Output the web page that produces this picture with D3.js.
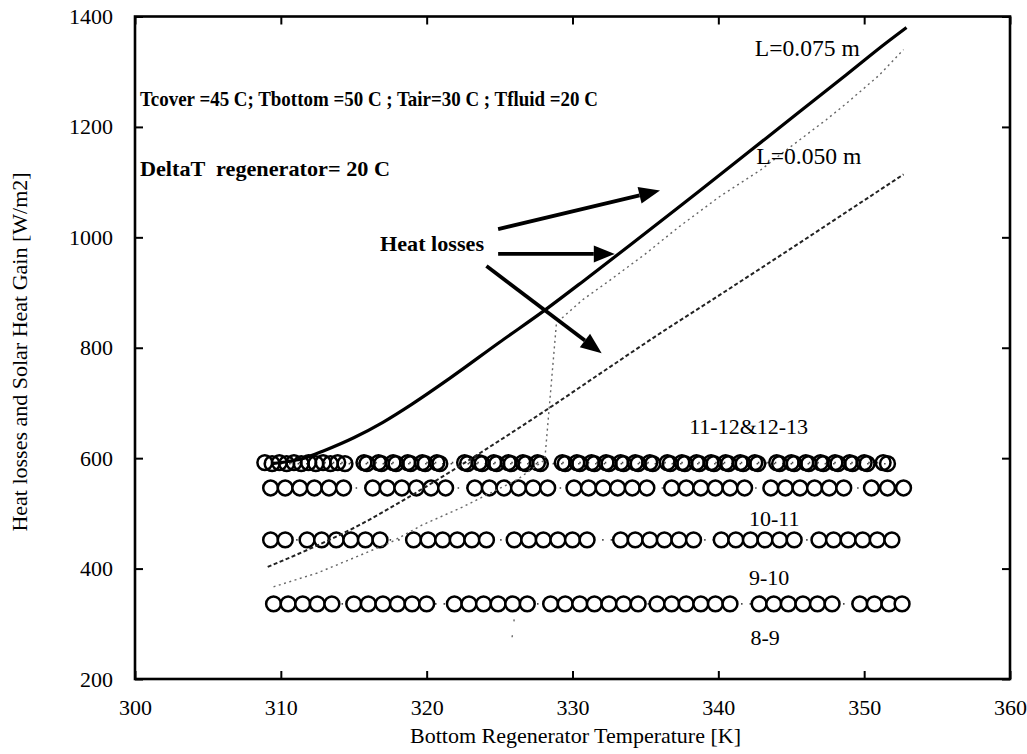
<!DOCTYPE html>
<html>
<head>
<meta charset="utf-8">
<script src="https://cdn.jsdelivr.net/npm/d3@7"></script>
<style>
  html, body { margin: 0; padding: 0; background: #fff; }
  svg { display: block; font-family: "Liberation Serif", "Times New Roman", serif; }
</style>
</head>
<body>
<svg id="chart" width="1027" height="754"></svg>
<script>
// ---- axis ticks ----
const xTicks = [300, 310, 320, 330, 340, 350, 360];
const yTicks = [200, 400, 600, 800, 1000, 1200, 1400];

// ---- heat loss curves: [temperature K, W/m2] ----
const lossL075 = [[309.4, 590], [310.5, 594], [311.6, 600], [313, 614], [315, 637], [317, 665], [319, 698],
  [321.6, 745], [325, 810], [328.2, 870], [331, 926], [334, 987], [337.3, 1055], [338.7, 1084],
  [342.1, 1155], [345.5, 1226], [348.8, 1295], [351.5, 1352], [352.9, 1380]];
const lossL050 = [[309.5, 367], [312.5, 392], [314.7, 416], [317.5, 447], [319.7, 479], [322.5, 512],
  [326.2, 561], [328.1, 597], [328.9, 845], [330.7, 887], [332.5, 921], [335, 970], [337.3, 1019],
  [340.1, 1074], [342.9, 1122], [344.9, 1163], [347.4, 1213], [348.8, 1243], [351, 1293], [352.7, 1340]];
const lossL050Tail = [[326.0, 308], [325.8, 262]];
const lossLower = [[309.1, 403], [312, 436], [315.4, 479], [318.6, 527], [321.6, 575], [324, 615],
  [327.9, 682], [332.5, 764], [336, 826], [340, 894], [345, 980], [350, 1067], [352.7, 1114]];

// ---- solar heat gain rows (markers), temperatures in K ----
const gain1112 = [308.9, 309.9, 310.9, 311.9, 312.9, 313.9,
  315.7, 316.7, 317.7, 318.7, 319.7, 320.7,
  322.6, 323.6, 324.6, 325.6, 326.6, 327.6,
  329.3, 330.3, 331.3, 332.3, 333.3, 334.3, 335.3,
  336.5, 337.5, 338.5, 339.5, 340.5, 341.5, 342.5,
  344.0, 345.0, 346.0, 347.0, 348.0, 349.0, 350.0,
  351.3];
const gain1213 = [309.4, 310.4, 311.4, 312.4, 313.4, 314.4,
  315.9, 316.9, 317.9, 318.9, 319.9, 320.9,
  322.8, 323.8, 324.8, 325.8, 326.8, 327.8,
  329.5, 330.5, 331.5, 332.5, 333.5, 334.5, 335.5,
  336.7, 337.7, 338.7, 339.7, 340.7, 341.7, 342.7,
  344.2, 345.2, 346.2, 347.2, 348.2, 349.2, 350.2,
  351.6];
const gain1011 = [309.3, 310.3, 311.3, 312.3, 313.3, 314.3,
  316.3, 317.3, 318.3, 319.3, 320.3, 321.3,
  323.3, 324.3, 325.3, 326.3, 327.3, 328.3,
  330.1, 331.1, 332.1, 333.1, 334.1, 335.1,
  336.8, 337.8, 338.8, 339.8, 340.8, 341.8,
  343.6, 344.6, 345.6, 346.6, 347.6, 348.6,
  350.5, 351.6, 352.7];
const gain910 = [309.3, 310.3,
  311.8, 312.8, 313.8, 314.8, 315.8, 316.8,
  319.1, 320.1, 321.1, 322.1, 323.1, 324.1,
  326.0, 327.0, 328.0, 329.0, 330.0, 331.0,
  333.3, 334.3, 335.3, 336.3, 337.3, 338.3,
  340.2, 341.2, 342.2, 343.2, 344.2, 345.2,
  346.9, 347.9, 348.9, 349.9, 350.9, 351.9];
const gain89 = [309.5, 310.5, 311.5, 312.5, 313.5,
  315.0, 316.0, 317.0, 318.0, 319.0, 320.0,
  321.9, 322.9, 323.9, 324.9, 325.9, 326.9,
  328.5, 329.5, 330.5, 331.5, 332.5, 333.5, 334.5,
  335.8, 336.8, 337.8, 338.8, 339.8, 340.8,
  342.8, 343.8, 344.8, 345.8, 346.8, 347.8,
  349.7, 350.7, 351.7, 352.6];
const gainLevels = { g1112: 592, g1213: 590, g1011: 546, g910: 452, g89: 336 };

// ---- labels ----
const rowLabels = [
  { text: "11-12&12-13", t: 338.0, v: 644 },
  { text: "10-11", t: 342.1, v: 478 },
  { text: "9-10", t: 342.1, v: 371 },
  { text: "8-9", t: 342.2, v: 261 }
];
const curveLabels = [
  { text: "L=0.075 m", t: 342.5, v: 1329 },
  { text: "L=0.050 m", t: 342.6, v: 1132 }
];
const arrows = [
  { from: [324.9, 1015], to: [336.0, 1085] },
  { from: [324.9, 970], to: [332.9, 970] },
  { from: [324.1, 948], to: [332.0, 790] }
];

const svg = d3.select("#chart");
const margin = { left: 135, top: 16.5, right: 17, bottom: 75 };
const W = 1027 - margin.left - margin.right;
const H = 754 - margin.top - margin.bottom;

const x = d3.scaleLinear().domain([300, 360]).range([0, W]);
const y = d3.scaleLinear().domain([200, 1400]).range([H, 0]);

const g = svg.append("g").attr("transform", `translate(${margin.left},${margin.top})`);

// axes with inward ticks on all four sides
const styleAxis = sel => {
  sel.select(".domain").remove();
  sel.selectAll(".tick line").attr("stroke", "#000").attr("stroke-width", 2);
  sel.selectAll(".tick text").attr("fill", "#000").style("font-size", "22px")
    .style("font-family", "'Liberation Serif', serif");
};
g.append("g").attr("transform", `translate(0,${H})`)
  .call(d3.axisBottom(x).tickValues(xTicks).tickFormat(d3.format("d")).tickSize(-8).tickPadding(20))
  .call(styleAxis);
g.append("g")
  .call(d3.axisLeft(y).tickValues(yTicks).tickFormat(d3.format("d")).tickSize(-8).tickPadding(22))
  .call(styleAxis);
g.append("g")
  .call(d3.axisTop(x).tickValues(xTicks).tickFormat("").tickSize(-8))
  .call(styleAxis);
g.append("g").attr("transform", `translate(${W},0)`)
  .call(d3.axisRight(y).tickValues(yTicks).tickFormat("").tickSize(-8))
  .call(styleAxis);

// plot frame
g.append("rect").attr("x", 0).attr("y", 0).attr("width", W).attr("height", H)
  .attr("fill", "none").attr("stroke", "#000").attr("stroke-width", 2.6);

const line = d3.line().x(d => x(d[0])).y(d => y(d[1])).curve(d3.curveMonotoneX);
const straight = d3.line().x(d => x(d[0])).y(d => y(d[1]));

// marker rows: faint dotted guide, then hollow circles
const rows = [
  { data: gain1112, v: gainLevels.g1112, fill: "none" },
  { data: gain1213, v: gainLevels.g1213, fill: "none" },
  { data: gain1011, v: gainLevels.g1011, fill: "#fff" },
  { data: gain910, v: gainLevels.g910, fill: "#fff" },
  { data: gain89, v: gainLevels.g89, fill: "#fff" }
];
rows.forEach(r => {
  g.append("path")
    .attr("d", straight([[r.data[0], r.v], [r.data[r.data.length - 1], r.v]]))
    .attr("fill", "none").attr("stroke", "#444").attr("stroke-width", 1.6)
    .attr("stroke-dasharray", "1.5,7");
});
rows.forEach(r => {
  g.append("g").selectAll("circle").data(r.data).join("circle")
    .attr("cx", d => x(d)).attr("cy", y(r.v)).attr("r", 7.4)
    .attr("fill", r.fill).attr("stroke", "#000").attr("stroke-width", 2.5);
});

// heat loss curves
g.append("path").attr("d", line(lossLower))
  .attr("fill", "none").attr("stroke", "#222").attr("stroke-width", 2)
  .attr("stroke-dasharray", "4,2.5");
g.append("path").attr("d", straight(lossL050))
  .attr("fill", "none").attr("stroke", "#666").attr("stroke-width", 1.4)
  .attr("stroke-dasharray", "2,3.5");
g.append("path").attr("d", straight(lossL050Tail))
  .attr("fill", "none").attr("stroke", "#666").attr("stroke-width", 1.4)
  .attr("stroke-dasharray", "2,14");
g.append("path").attr("d", line(lossL075))
  .attr("fill", "none").attr("stroke", "#000").attr("stroke-width", 3.2);

// arrows pointing at the loss curves
arrows.forEach(a => {
  const x0 = x(a.from[0]), y0 = y(a.from[1]), x1 = x(a.to[0]), y1 = y(a.to[1]);
  const ang = Math.atan2(y1 - y0, x1 - x0);
  const hl = 21, hw = 8.5;
  const bx = x1 - hl * Math.cos(ang), by = y1 - hl * Math.sin(ang);
  g.append("line").attr("x1", x0).attr("y1", y0).attr("x2", bx).attr("y2", by)
    .attr("stroke", "#000").attr("stroke-width", 3.8);
  const px = -Math.sin(ang) * hw, py = Math.cos(ang) * hw;
  g.append("path")
    .attr("d", `M${x1},${y1}L${bx + px},${by + py}L${bx - px},${by - py}Z`)
    .attr("fill", "#000");
});

// annotation texts
const txt = (t, v, s, size, opts = {}) => {
  const el = g.append("text").attr("x", x(t)).attr("y", y(v)).text(s)
    .attr("fill", "#000").style("font-size", size + "px").style("white-space", "pre");
  if (opts.bold) el.style("font-weight", "bold");
  if (opts.len) el.attr("textLength", opts.len).attr("lengthAdjust", "spacingAndGlyphs");
  return el;
};
txt(300.34, 1238, "Tcover =45 C; Tbottom =50 C ; Tair=30 C ; Tfluid =20 C", 22, { bold: true, len: 458 });
txt(300.34, 1111, "DeltaT  regenerator= 20 C", 22, { bold: true, len: 250 });
txt(316.8, 976, "Heat losses", 22, { bold: true, len: 104 });
curveLabels.forEach(l => txt(l.t, l.v, l.text, 23, { len: 105 }));
rowLabels.forEach(l => txt(l.t, l.v, l.text, 22));

// axis titles
svg.append("text").attr("x", margin.left + W / 2 + 3).attr("y", 743)
  .attr("text-anchor", "middle").style("font-size", "22px")
  .text("Bottom Regenerator Temperature [K]");
svg.append("text").attr("transform", "translate(27,352) rotate(-90)")
  .attr("text-anchor", "middle").style("font-size", "22px")
  .text("Heat losses and Solar Heat Gain [W/m2]");
</script>
</body>
</html>
